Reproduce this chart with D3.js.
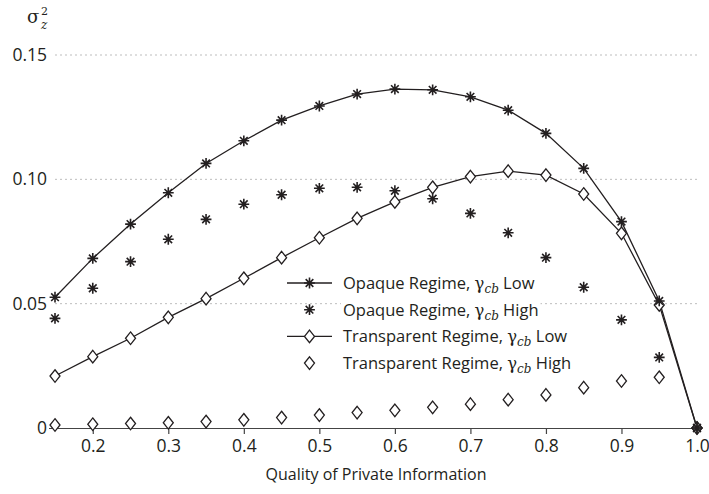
<!DOCTYPE html>
<html>
<head>
<meta charset="utf-8">
<script src="https://cdn.jsdelivr.net/npm/d3@7"></script>
<style>
  body { margin: 0; background: #fff; }
  svg { font-family: "Open Sans", sans-serif; }
</style>
</head>
<body>
<svg width="709" height="494"></svg>
<script>
// quality of private information
const quality = [0.15, 0.2, 0.25, 0.3, 0.35, 0.4, 0.45, 0.5, 0.55, 0.6, 0.65, 0.7, 0.75, 0.8, 0.85, 0.9, 0.95, 1.0];

const opaqueLow = [0.0526, 0.0682, 0.0820, 0.0946, 0.1064, 0.1155, 0.1238, 0.1295, 0.1343, 0.1363, 0.1360, 0.1332, 0.1278, 0.1185, 0.1044, 0.0830, 0.0511, 0];
const opaqueHigh = [0.0441, 0.0562, 0.0669, 0.0759, 0.0839, 0.0900, 0.0938, 0.0964, 0.0968, 0.0954, 0.0922, 0.0863, 0.0785, 0.0685, 0.0566, 0.0435, 0.0284, 0];
const transLow = [0.0209, 0.0287, 0.0361, 0.0445, 0.0520, 0.0602, 0.0685, 0.0765, 0.0843, 0.0909, 0.0968, 0.1011, 0.1033, 0.1017, 0.0941, 0.0783, 0.0495, 0];
const transHigh = [0.0012, 0.0015, 0.0018, 0.0021, 0.0026, 0.0033, 0.0042, 0.0052, 0.0062, 0.0071, 0.0083, 0.0096, 0.0114, 0.0133, 0.0162, 0.0189, 0.0204, 0];

const xTicks = [0.2, 0.3, 0.4, 0.5, 0.6, 0.7, 0.8, 0.9, 1.0];
const yTicks = [0, 0.05, 0.10, 0.15];

const series = [
    { name: "Opaque Regime, ", tail: " Low", values: opaqueLow, marker: "star", line: true },
    { name: "Opaque Regime, ", tail: " High", values: opaqueHigh, marker: "star", line: false },
    { name: "Transparent Regime, ", tail: " Low", values: transLow, marker: "diamond", line: true },
    { name: "Transparent Regime, ", tail: " High", values: transHigh, marker: "diamond", line: false }
];

const ink = "#231f20";
const svg = d3.select("svg");

const x = d3.scaleLinear().domain([0.15, 1.0]).range([55, 697]);
const y = d3.scaleLinear().domain([0, 0.15]).range([428, 55]);

// dotted grid lines
svg.append("g")
    .selectAll("line")
    .data(yTicks.filter(d => d > 0))
    .enter()
    .append("line")
    .attr("x1", 55)
    .attr("x2", 698)
    .attr("y1", d => y(d))
    .attr("y2", d => y(d))
    .attr("stroke", "#bdbdbd")
    .attr("stroke-width", 1)
    .attr("stroke-dasharray", "2,3");

// y tick labels (no axis line)
const yAxis = d3.axisLeft(y)
    .tickValues(yTicks)
    .tickSize(0)
    .tickPadding(0)
    .tickFormat(d => d === 0 ? "0" : d3.format(".2f")(d));
const gy = svg.append("g").attr("transform", "translate(47,0)").call(yAxis);
gy.select(".domain").remove();
gy.selectAll("text")
    .attr("fill", ink)
    .style("font-size", "17.5px")
    .style("font-family", "Open Sans, sans-serif");

// x axis
const xAxis = d3.axisBottom(x)
    .tickValues(xTicks)
    .tickSize(6)
    .tickPadding(6)
    .tickFormat(d3.format(".1f"));
const gx = svg.append("g").attr("transform", "translate(0,428)").call(xAxis);
gx.select(".domain").attr("d", "M49,0.5H697").attr("stroke", "#444").attr("stroke-width", 1.2);
gx.selectAll(".tick line").attr("stroke", "#444").attr("stroke-width", 1.2);
gx.selectAll("text")
    .attr("fill", ink)
    .style("font-size", "17.5px")
    .style("font-family", "Open Sans, sans-serif");

// axis titles
svg.append("text")
    .attr("x", 376)
    .attr("y", 480)
    .attr("text-anchor", "middle")
    .attr("fill", ink)
    .style("font-size", "16px")
    .text("Quality of Private Information");

const yTitle = svg.append("text")
    .attr("x", 27)
    .attr("y", 23)
    .attr("fill", ink)
    .style("font-family", "DejaVu Serif, serif")
    .style("font-size", "18px");
yTitle.append("tspan").text("σ");
yTitle.append("tspan").attr("x", 41).attr("y", 15).style("font-size", "11px").text("2");
yTitle.append("tspan").attr("x", 41).attr("y", 29).style("font-size", "12px").style("font-style", "italic").text("z");

// marker shapes
function drawMarker(g, kind, cx, cy) {
    if (kind === "star") {
        const r = 5.4;
        const d = r * Math.SQRT1_2;
        g.append("path")
            .attr("d", `M${cx},${cy - r}V${cy + r}M${cx - r},${cy}H${cx + r}` +
                `M${cx - d},${cy - d}L${cx + d},${cy + d}M${cx - d},${cy + d}L${cx + d},${cy - d}`)
            .attr("stroke", ink)
            .attr("stroke-width", 1.6)
            .attr("fill", "none");
    } else {
        g.append("path")
            .attr("d", `M${cx},${cy - 6.3}L${cx + 5},${cy}L${cx},${cy + 6.3}L${cx - 5},${cy}Z`)
            .attr("stroke", ink)
            .attr("stroke-width", 1.3)
            .attr("fill", "#fff");
    }
}

const line = d3.line()
    .x((d, i) => x(quality[i]))
    .y(d => y(d));

const plot = svg.append("g");
series.forEach(s => {
    if (s.line) {
        plot.append("path")
            .attr("d", line(s.values))
            .attr("fill", "none")
            .attr("stroke", ink)
            .attr("stroke-width", 1.3);
    }
});
// diamonds first, stars on top
[series[2], series[3], series[0], series[1]].forEach(s => {
    const mg = plot.append("g");
    s.values.forEach((v, i) => drawMarker(mg, s.marker, x(quality[i]), y(v)));
});

// legend
const legend = svg.append("g");
series.forEach((s, i) => {
    const ly = 283 + i * 26.7;
    const row = legend.append("g");
    const label = row.append("text")
        .attr("x", 343)
        .attr("y", ly + 6)
        .attr("fill", ink)
        .style("font-size", "16.5px");
    label.append("tspan").text(s.name);
    label.append("tspan").style("font-family", "DejaVu Serif, serif").text("γ");
    label.append("tspan").attr("dy", 4).style("font-family", "DejaVu Serif, serif")
        .style("font-style", "italic").style("font-size", "12px").text("cb");
    label.append("tspan").attr("dy", -4).text(s.tail);
    const bb = label.node().getBBox();
    row.insert("rect", "text")
        .attr("x", bb.x - 2)
        .attr("y", bb.y)
        .attr("width", bb.width + 4)
        .attr("height", bb.height)
        .attr("fill", "#fff");
    if (s.line) {
        row.append("line")
            .attr("x1", 287).attr("x2", 332)
            .attr("y1", ly).attr("y2", ly)
            .attr("stroke", ink)
            .attr("stroke-width", 1.3);
    }
    drawMarker(row, s.marker, 309.5, ly);
});
</script>
</body>
</html>
